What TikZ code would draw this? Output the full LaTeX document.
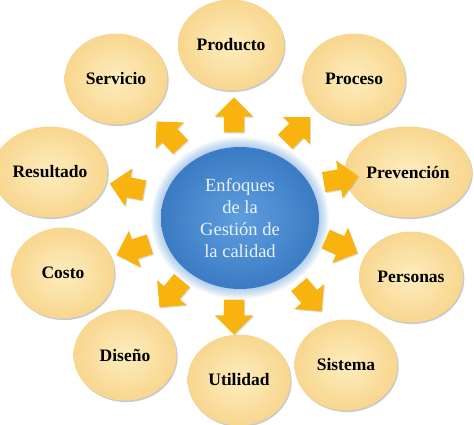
\documentclass[tikz,border=0pt]{standalone}
\usepackage{fontspec}
\setmainfont{Liberation Serif}
\usetikzlibrary{shapes.geometric,shapes.arrows,shadows}
\definecolor{ellin}{HTML}{FDEDBE}
\definecolor{ellout}{HTML}{F8D68E}
\definecolor{arrowc}{HTML}{F9B30F}
\definecolor{blueIn}{HTML}{5E9EDD}
\definecolor{blueOut}{HTML}{3B7BC4}
\definecolor{glowc}{HTML}{4A8CD0}
\definecolor{ctext}{HTML}{E9F1FA}
\begin{document}
\begin{tikzpicture}[x=1pt,y=-1pt,
  el/.style={ellipse, minimum width=103pt, minimum height=91pt, draw=none,
    inner color=ellin, outer color=ellout,
    font=\fontsize{17.5}{20}\selectfont\bfseries, text=black,
    drop shadow={opacity=0.35, shadow xshift=1.2pt, shadow yshift=-1.6pt, fill=black!60}},
  arr/.style={single arrow, draw=none, fill=arrowc, inner sep=0pt,
    text width=0pt, text height=10pt, text depth=10pt,
    minimum height=35pt, minimum width=0pt,
    single arrow head extend=9pt, single arrow head indent=0pt,
    drop shadow={opacity=0.25, shadow xshift=1pt, shadow yshift=-1pt, fill=black!60}},
  centre/.style={ellipse, minimum width=158pt, minimum height=142pt, draw=none,
    inner color=blueIn, outer color=blueOut, text=ctext, align=center,
    font=\fontsize{18.5}{22}\selectfont}
]
\useasboundingbox (0,0) rectangle (474,424);
% glow around centre
\foreach \r in {1,...,10}
  \fill[glowc, opacity=0.05] (240,218) ellipse ({79+\r} and {71+\r});
\node[centre] (c) at (240,218) {Enfoques\\de la\\Gestión de\\la calidad};

\node[el] (producto)   at (231,45)  {Producto};
\node[el] (proceso)    at (354,79)  {Proceso};
\node[el] (prevencion) at (408,172) {Prevención};
\node[el] (personas)   at (411,277) {Personas};
\node[el] (sistema)    at (346,365) {Sistema};
\node[el] (utilidad)   at (239,380) {Utilidad};
\node[el] (diseno)     at (125,355) {Diseño};
\node[el] (costo)      at (63,273)  {Costo};
\node[el] (resultado)  at (50,172)  {Resultado};
\node[el] (servicio)   at (116,79)  {Servicio};

\node[arr, rotate=90]   (a1)  at (234,120) {};
\node[arr, rotate=45]   (a2)  at (294,133) {};
\node[arr, rotate=10]   (a3)  at (336,180) {};
\node[arr, rotate=-24]  (a4)  at (337,244) {};
\node[arr, rotate=-50]  (a5)  at (307,294) {};
\node[arr, rotate=-90]  (a6)  at (234,312) {};
\node[arr, rotate=-130] (a7)  at (174,290) {};
\node[arr, rotate=-162] (a8)  at (138,248) {};
\node[arr, rotate=169]  (a9)  at (132,188) {};
\node[arr, rotate=133]  (a10) at (172,138) {};
\end{tikzpicture}
\end{document}
